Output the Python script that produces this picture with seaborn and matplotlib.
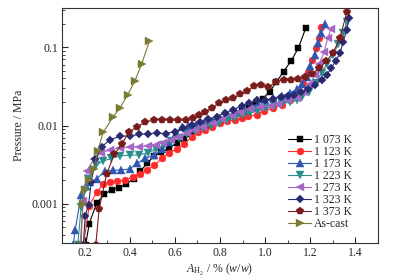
import pandas as pd
import numpy as np
import matplotlib
matplotlib.use("Agg")
import matplotlib.pyplot as plt
from matplotlib.ticker import FixedLocator, MultipleLocator, NullFormatter
import seaborn as sns


# %% data
labels = ['1 073 K', '1 123 K', '1 173 K', '1 223 K', '1 273 K', '1 323 K', '1 373 K', 'As-cast']

x_1073 = [0.205, 0.221, 0.254, 0.288, 0.320, 0.352, 0.385, 0.418, 0.447, 0.478, 0.508, 0.540, 0.575,
          0.608, 0.640, 0.672, 0.705, 0.738, 0.770, 0.800, 0.832, 0.865, 0.897, 0.928, 0.958, 0.990,
          1.020, 1.050, 1.082, 1.115, 1.147, 1.180]
y_1073 = [0.0003, 0.00056, 0.00103, 0.00132, 0.00152, 0.0016, 0.0018, 0.0021, 0.0026, 0.0033, 0.0041,
          0.0046, 0.0051, 0.006, 0.0068, 0.0077, 0.0088, 0.0098, 0.011, 0.0118, 0.0128, 0.014, 0.0155,
          0.017, 0.0195, 0.022, 0.027, 0.036, 0.049, 0.067, 0.097, 0.175]

x_1123 = [0.195, 0.221, 0.254, 0.283, 0.313, 0.346, 0.379, 0.413, 0.446, 0.475, 0.509, 0.542, 0.575,
          0.608, 0.642, 0.675, 0.704, 0.734, 0.763, 0.800, 0.830, 0.866, 0.896, 0.925, 0.963, 0.996,
          1.036, 1.073, 1.110, 1.140, 1.169, 1.190, 1.210, 1.225, 1.239, 1.246]
y_1123 = [0.0003, 0.00095, 0.0014, 0.0018, 0.0019, 0.00195, 0.002, 0.0022, 0.0024, 0.0027, 0.0031,
          0.0038, 0.0045, 0.005, 0.0058, 0.0072, 0.0082, 0.0089, 0.0097, 0.0107, 0.0113, 0.0119, 0.0124,
          0.0131, 0.0138, 0.0155, 0.0167, 0.0184, 0.021, 0.026, 0.035, 0.049, 0.069, 0.097, 0.13, 0.183]

x_1173 = [0.150, 0.159, 0.185, 0.206, 0.225, 0.254, 0.290, 0.325, 0.362, 0.400, 0.434, 0.468, 0.509,
          0.545, 0.575, 0.605, 0.630, 0.660, 0.695, 0.730, 0.765, 0.800, 0.835, 0.870, 0.905, 0.940,
          0.970, 1.000, 1.036, 1.073, 1.110, 1.140, 1.162, 1.184, 1.200, 1.220, 1.236, 1.248, 1.265]
y_1173 = [0.0003, 0.00047, 0.0013, 0.0017, 0.0019, 0.0021, 0.0026, 0.0027, 0.0027, 0.0028, 0.0033,
          0.0038, 0.0042, 0.005, 0.0062, 0.008, 0.0095, 0.0098, 0.0102, 0.0108, 0.0115, 0.0125, 0.0135,
          0.0148, 0.016, 0.0175, 0.019, 0.021, 0.0224, 0.024, 0.026, 0.029, 0.034, 0.042, 0.057, 0.08,
          0.112, 0.15, 0.2]

x_1223 = [0.170, 0.185, 0.200, 0.215, 0.232, 0.250, 0.280, 0.318, 0.358, 0.403, 0.442, 0.480, 0.515,
          0.550, 0.585, 0.620, 0.655, 0.690, 0.725, 0.760, 0.795, 0.830, 0.865, 0.900, 0.935, 0.970,
          1.005, 1.040, 1.075, 1.110, 1.140, 1.165, 1.195, 1.225, 1.250, 1.275, 1.300, 1.325, 1.345, 1.362]
y_1223 = [0.0003, 0.0009, 0.0015, 0.0021, 0.0026, 0.0031, 0.0035, 0.0038, 0.0041, 0.0042, 0.0042,
          0.0045, 0.005, 0.0056, 0.0063, 0.007, 0.0077, 0.0085, 0.0093, 0.010, 0.0108, 0.0117, 0.0126,
          0.0135, 0.0145, 0.0155, 0.0166, 0.0178, 0.019, 0.020, 0.021, 0.0235, 0.027, 0.035, 0.047,
          0.062, 0.08, 0.11, 0.15, 0.21]

x_1273 = [0.180, 0.195, 0.210, 0.240, 0.274, 0.314, 0.358, 0.403, 0.442, 0.480, 0.515, 0.549, 0.585,
          0.620, 0.655, 0.690, 0.726, 0.770, 0.808, 0.852, 0.889, 0.933, 0.977, 1.022, 1.058, 1.100,
          1.140, 1.174, 1.200, 1.220, 1.240, 1.262, 1.277, 1.292]
y_1273 = [0.0003, 0.0011, 0.0026, 0.0037, 0.0045, 0.0049, 0.0052, 0.0053, 0.0054, 0.0055, 0.0057,
          0.006, 0.0065, 0.0072, 0.008, 0.0088, 0.0097, 0.0107, 0.0122, 0.0138, 0.015, 0.0162, 0.0172,
          0.0178, 0.0186, 0.021, 0.0224, 0.0267, 0.034, 0.044, 0.062, 0.088, 0.13, 0.171]

x_1323 = [0.195, 0.203, 0.218, 0.230, 0.248, 0.277, 0.314, 0.358, 0.403, 0.442, 0.480, 0.520, 0.560,
          0.600, 0.637, 0.675, 0.710, 0.748, 0.785, 0.822, 0.859, 0.896, 0.930, 0.965, 1.000, 1.035,
          1.070, 1.100, 1.130, 1.160, 1.190, 1.220, 1.250, 1.273, 1.292, 1.312, 1.332, 1.346, 1.362, 1.372]
y_1323 = [0.0003, 0.0007, 0.00098, 0.0019, 0.0037, 0.0054, 0.0066, 0.0073, 0.0074, 0.0077, 0.0079,
          0.008, 0.0079, 0.0084, 0.0093, 0.0102, 0.011, 0.012, 0.013, 0.0145, 0.016, 0.0178, 0.0195,
          0.021, 0.021, 0.022, 0.023, 0.0236, 0.0245, 0.0268, 0.0294, 0.033, 0.038, 0.044, 0.054, 0.066,
          0.084, 0.118, 0.166, 0.238]

x_1373 = [0.250, 0.265, 0.298, 0.332, 0.365, 0.396, 0.432, 0.468, 0.509, 0.545, 0.580, 0.615, 0.650,
          0.680, 0.708, 0.736, 0.765, 0.795, 0.827, 0.859, 0.889, 0.918, 0.951, 0.980, 1.015, 1.050,
          1.083, 1.115, 1.147, 1.177, 1.206, 1.240, 1.270, 1.300, 1.332, 1.362]
y_1373 = [0.0003, 0.00087, 0.0024, 0.0043, 0.0058, 0.0082, 0.0097, 0.011, 0.0119, 0.0119, 0.0118,
          0.0117, 0.0118, 0.0125, 0.0135, 0.015, 0.017, 0.0194, 0.021, 0.0228, 0.025, 0.0277, 0.032,
          0.033, 0.031, 0.0365, 0.038, 0.038, 0.039, 0.042, 0.0457, 0.054, 0.066, 0.084, 0.13, 0.284]

x_cast = [0.185, 0.192, 0.202, 0.218, 0.242, 0.258, 0.283, 0.325, 0.358, 0.391, 0.423, 0.453, 0.487]
y_cast = [0.0003, 0.001, 0.0015, 0.002, 0.0028, 0.0047, 0.0082, 0.0127, 0.017, 0.0247, 0.037, 0.061, 0.119]

xs = [x_1073, x_1123, x_1173, x_1223, x_1273, x_1323, x_1373, x_cast]
ys = [y_1073, y_1123, y_1173, y_1223, y_1273, y_1323, y_1373, y_cast]

colors = ['#000000', '#ff2a2a', '#2f56b0', '#2a8c8c', '#a666c8', '#2a2a70', '#7a1c1c', '#7a7a32']
marks = ['s', 'o', '^', 'v', '<', 'D', 'p', '>']
msizes = [4.5, 5, 5.5, 5.5, 5.5, 4.2, 5.5, 5.5]


# %% plot
sns.set_style("ticks")
plt.rcParams['font.family'] = ['Liberation Serif', 'DejaVu Serif']
plt.rcParams['mathtext.fontset'] = 'custom'
plt.rcParams['mathtext.rm'] = 'Liberation Serif'
plt.rcParams['mathtext.it'] = 'Liberation Serif:italic'

fig = plt.figure(figsize = (3.97, 2.8), dpi = 100)
ax = fig.add_axes([0.156, 0.132, 0.796, 0.839])

for x, y, lab, c, m, ms in zip(xs, ys, labels, colors, marks, msizes):
    sns.lineplot(x = x, y = y, color = c, marker = m, markersize = ms, markeredgewidth = 0.3,
                 markeredgecolor = c, linewidth = 0.8, estimator = None, sort = False,
                 label = lab, ax = ax)

ax.set_yscale('log')
ax.set_xlim(0.1, 1.5)
ax.set_ylim(10 ** -3.5, 10 ** -0.5)

ax.xaxis.set_major_locator(FixedLocator([0.2, 0.4, 0.6, 0.8, 1.0, 1.2, 1.4]))
ax.xaxis.set_minor_locator(MultipleLocator(0.1))
ax.set_xticklabels(['0.2', '0.4', '0.6', '0.8', '1.0', '1.2', '1.4'])
ax.yaxis.set_major_locator(FixedLocator([0.001, 0.01, 0.1]))
ax.set_yticklabels(['0.001', '0.01', '0.1'])
ax.yaxis.set_minor_formatter(NullFormatter())

ax.tick_params(axis = 'both', which = 'major', direction = 'in', length = 4, width = 0.8,
               labelsize = 8.5, pad = 3)
ax.tick_params(axis = 'both', which = 'minor', direction = 'in', length = 2, width = 0.6)
for s in ax.spines.values():
    s.set_linewidth(0.8)
    s.set_color('#333333')

ax.set_xlabel(r'$A_{\mathrm{H_2}}$ / % ($w$/$w$)', fontsize = 8.5, labelpad = 2)
ax.set_ylabel('Pressure / MPa', fontsize = 8.5, labelpad = 4)

h, l = ax.get_legend_handles_labels()
ax.legend(h, l, loc = 'upper left', bbox_to_anchor = (0.70, 0.485), frameon = False, fontsize = 8.5,
          handlelength = 2.0, handletextpad = 0.2, labelspacing = 0.0, borderaxespad = 0)

fig.savefig('out.png', dpi = 100)
